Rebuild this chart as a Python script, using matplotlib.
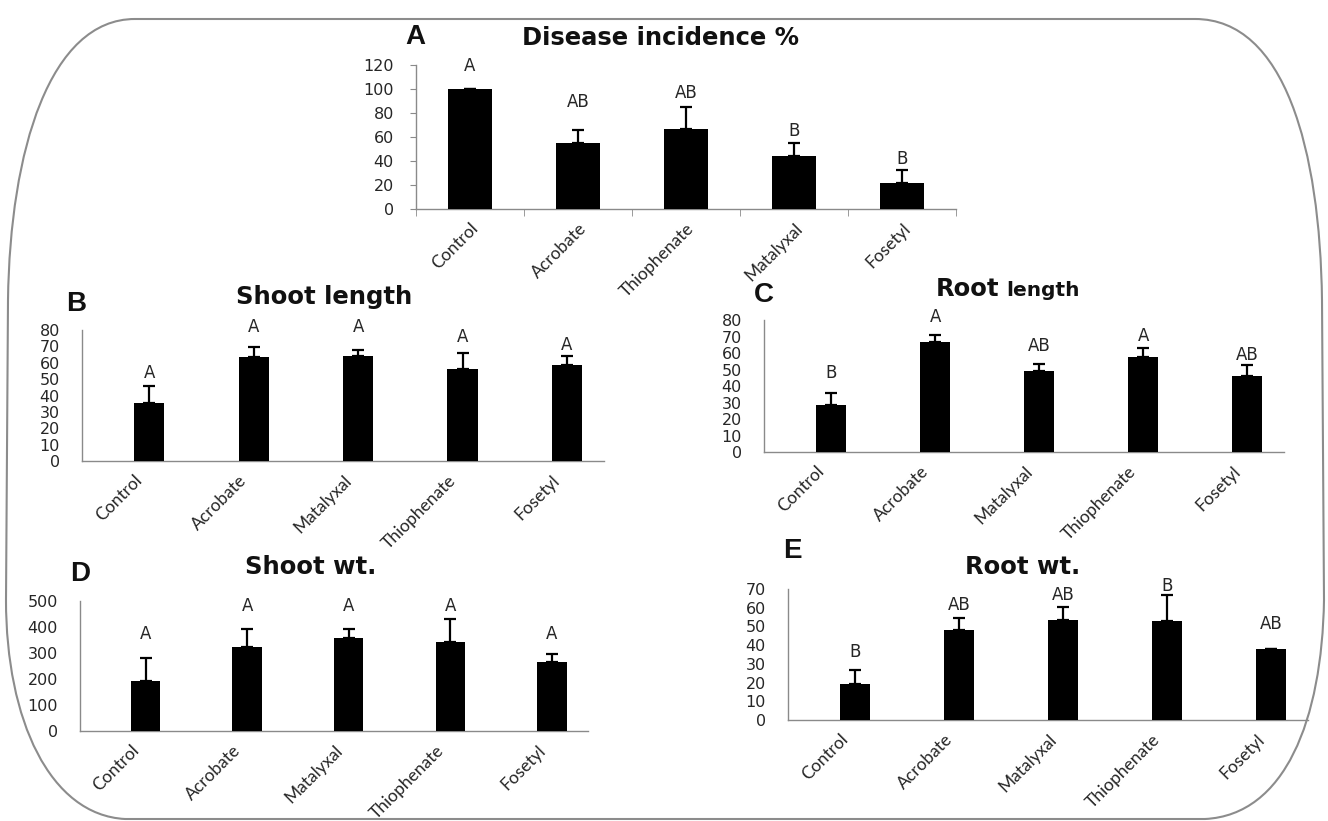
import matplotlib
matplotlib.use("Agg")
import matplotlib.pyplot as plt
from matplotlib.path import Path
from matplotlib.patches import PathPatch
import numpy as np

W, H = 1328, 821

# treatments (order differs between panel A and the others)
treat_a = ["Control", "Acrobate", "Thiophenate", "Matalyxal", "Fosetyl"]
treat_b = ["Control", "Acrobate", "Matalyxal", "Thiophenate", "Fosetyl"]

# A: disease incidence %
disease = [100, 55, 67, 44, 22]
disease_err = [0, 11, 18, 11, 10.5]
disease_grp = ["A", "AB", "AB", "B", "B"]
disease_grp_y = [119, 89, 97, 65, 42]

# B: shoot length
shoot_len = [35.5, 63.5, 64.3, 56.3, 58.4]
shoot_len_err = [10.4, 6.1, 3.6, 9.8, 5.5]
shoot_len_grp = ["A", "A", "A", "A", "A"]
shoot_len_grp_y = [53.5, 82, 82, 76, 71]

# C: root length
root_len = [28.4, 66.6, 49.2, 57.5, 46.2]
root_len_err = [7.5, 4.1, 3.9, 5.3, 6.7]
root_len_grp = ["B", "A", "AB", "A", "AB"]
root_len_grp_y = [47.6, 82, 64.4, 70.3, 58.7]

# D: shoot weight
shoot_wt = [194, 323, 359, 342, 265]
shoot_wt_err = [87, 71, 35, 87, 30]
shoot_wt_grp = ["A", "A", "A", "A", "A"]
shoot_wt_grp_y = [372, 480, 480, 480, 372]

# E: root weight
root_wt = [19.3, 48.0, 53.6, 53.0, 37.7]
root_wt_err = [7.5, 6.6, 6.8, 13.8, 0.3]
root_wt_grp = ["B", "AB", "AB", "B", "AB"]
root_wt_grp_y = [36.3, 61.3, 66.6, 71.4, 51.4]

AXIS_GREY = "#8a8a8a"
TXT = "#262626"

fig = plt.figure(figsize=(W / 100, H / 100), dpi=100)


def fx(x):
    return x / W


def fy(y):
    return 1 - y / H


def panel(box, cats, vals, errs, grp, grp_y, ymax, ystep, offset, width,
          ytick_len=0, boundary_ticks=False):
    x0, y0, x1, y1 = box
    ax = fig.add_axes([fx(x0), fy(y1), (x1 - x0) / W, (y1 - y0) / H])
    x = np.arange(len(cats)) + offset
    ax.bar(x, vals, width=width, color="black", zorder=3)
    ax.errorbar(x, vals, yerr=[np.zeros(len(vals)), errs], fmt="none",
                ecolor="black", elinewidth=1.6, capsize=4.5, capthick=1.6,
                zorder=3)
    for xi, t, ty in zip(x, grp, grp_y):
        ax.text(xi, ty, t, ha="center", va="center", fontsize=12,
                color=TXT, family="DejaVu Sans", clip_on=False)
    ax.set_xlim(-0.5, len(cats) - 0.5)
    ax.set_ylim(0, ymax)
    ax.set_yticks(np.arange(0, ymax + 1, ystep))
    ax.set_xticks(range(len(cats)))
    ax.set_xticklabels(cats, rotation=45, ha="right", rotation_mode="anchor",
                       family="Lato", fontsize=12.5, color=TXT)
    for lab in ax.get_yticklabels():
        lab.set_family("DejaVu Sans")
        lab.set_fontsize(11.5)
        lab.set_color(TXT)
    ax.spines["top"].set_visible(False)
    ax.spines["right"].set_visible(False)
    for s in ("left", "bottom"):
        ax.spines[s].set_color(AXIS_GREY)
        ax.spines[s].set_linewidth(1.0)
    ax.tick_params(axis="y", length=ytick_len, color=AXIS_GREY,
                   pad=16 - ytick_len)
    ax.tick_params(axis="x", which="major", length=0, pad=8)
    if boundary_ticks:
        ax.set_xticks(np.arange(-0.5, len(cats)), minor=True)
        ax.tick_params(axis="x", which="minor", length=5, color=AXIS_GREY)
    ax.patch.set_alpha(0)
    return ax


panel((416, 65, 956, 209), treat_a, disease, disease_err, disease_grp,
      disease_grp_y, 120, 20, 0.0, 0.4, ytick_len=4, boundary_ticks=True)
panel((82, 330, 604, 461), treat_b, shoot_len, shoot_len_err, shoot_len_grp,
      shoot_len_grp_y, 80, 10, 0.145, 0.29)
panel((764, 320, 1284, 452), treat_b, root_len, root_len_err, root_len_grp,
      root_len_grp_y, 80, 10, 0.145, 0.29)
panel((80, 601, 588, 731), treat_b, shoot_wt, shoot_wt_err, shoot_wt_grp,
      shoot_wt_grp_y, 500, 100, 0.145, 0.29)
panel((788, 589, 1308, 720), treat_b, root_wt, root_wt_err, root_wt_grp,
      root_wt_grp_y, 70, 10, 0.145, 0.29)

# panel letters and titles
title_kw = dict(family="DejaVu Sans", fontweight="bold", fontsize=17.5,
                color="#111111", va="center")
letter_kw = dict(family="Liberation Sans", fontweight="bold", fontsize=20,
                 color="#111111", va="center", ha="center")

fig.text(fx(415), fy(37), "A", **letter_kw)
fig.text(fx(660), fy(38), "Disease incidence %", ha="center", **title_kw)
fig.text(fx(76), fy(304), "B", **letter_kw)
fig.text(fx(324), fy(297), "Shoot length", ha="center", **title_kw)
fig.text(fx(764), fy(295), "C", **letter_kw)
fig.text(fx(999), fy(289), "Root", ha="right", **title_kw)
fig.text(fx(1006), fy(291), "length", ha="left", family="DejaVu Sans",
         fontweight="bold", fontsize=14.5, color="#111111", va="center")
fig.text(fx(80), fy(574), "D", **letter_kw)
fig.text(fx(311), fy(567), "Shoot wt.", ha="center", **title_kw)
fig.text(fx(792), fy(551), "E", **letter_kw)
fig.text(fx(1023), fy(567), "Root wt.", ha="center", **title_kw)

# rounded frame around the whole figure
pts = [
    ((135, 19), Path.MOVETO),
    ((1195, 19), Path.LINETO),
    ((1285, 19), Path.CURVE4), ((1320, 150), Path.CURVE4), ((1322, 300), Path.CURVE4),
    ((1324, 600), Path.LINETO),
    ((1322, 720), Path.CURVE4), ((1285, 815), Path.CURVE4), ((1205, 819), Path.CURVE4),
    ((125, 819), Path.LINETO),
    ((50, 815), Path.CURVE4), ((6, 720), Path.CURVE4), ((6, 600), Path.CURVE4),
    ((8, 300), Path.LINETO),
    ((10, 150), Path.CURVE4), ((50, 19), Path.CURVE4), ((135, 19), Path.CURVE4),
]
verts = [(fx(p[0]), fy(p[1])) for p, _ in pts]
codes = [c for _, c in pts]
frame = PathPatch(Path(verts, codes), transform=fig.transFigure, fill=False,
                  edgecolor="#8c8c8c", linewidth=1.5)
fig.patches.append(frame)

fig.savefig("out.png", dpi=100)
